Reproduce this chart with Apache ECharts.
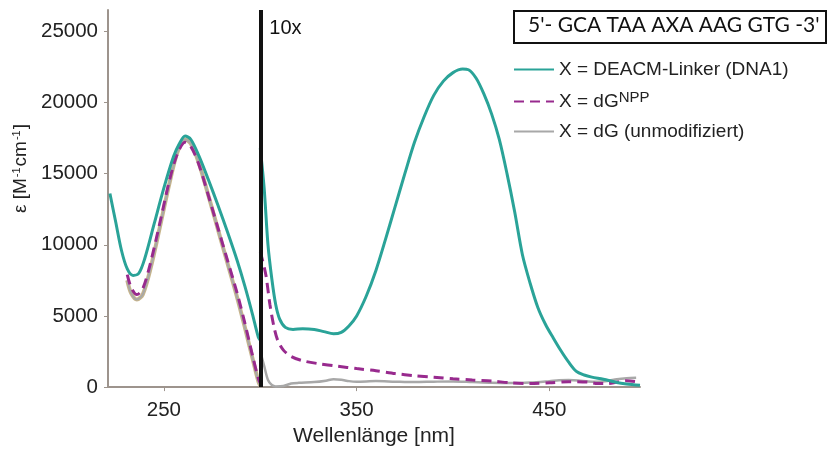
<!DOCTYPE html>
<html><head><meta charset="utf-8">
<script src="https://cdn.jsdelivr.net/npm/echarts@6/dist/echarts.min.js"></script>
<style>html,body{margin:0;padding:0;background:#fff}#c{width:827px;height:452px}</style>
</head><body><div id="c"></div>
<script>
// ---- data (wavelength nm, epsilon as plotted; right of 300 nm values are 10x magnified) ----
const xTicks = [250, 350, 450];
const yTicks = [0, 5000, 10000, 15000, 20000, 25000];
const seqLabel = "5'- GCA TAA AXA AAG GTG -3'";
const magLabel = "10x";
const splitNm = 300;

const tealLeftNm  = [222,225,228,231,234,237,240,245,250,255,258,261,264,268,273,278,283,288,292,296,299,300];
const tealLeftVal = [13600,11600,9600,8300,7850,8000,9000,11500,14000,16200,17100,17650,17400,16300,14600,12800,10900,8900,7100,5100,3500,3300];
const tealRightNm  = [300,302,304,306,308,310,313,317,322,328,333,338,342,346,350,355,360,365,370,375,380,385,390,395,400,405,408,412,416,420,424,428,432,436,440,444,448,452,456,460,464,468,472,478,485,490,497];
const tealRightVal = [16800,14000,10000,7600,5800,4800,4200,4050,4100,4050,3900,3750,3850,4300,5000,6400,8200,10400,12700,15000,17200,19000,20500,21500,22100,22350,22300,21700,20600,19200,17400,15000,12300,9300,7300,5600,4400,3450,2550,1750,1100,850,700,550,320,220,130];

const nppLeftNm  = [231,233,236,239,243,248,253,257,261,264,268,273,278,283,288,292,296,299,300];
const nppLeftVal = [7900,7000,6500,6900,8700,11600,14600,16400,17200,16900,15700,13500,11200,8900,6600,4500,2200,600,300];
const nppRightNm  = [300,301,303,305,307,309,312,316,322,330,340,350,360,370,380,390,400,410,420,430,440,450,460,470,475,480,485,490,497];
const nppRightVal = [9500,9000,7800,5800,4300,3300,2600,2150,1850,1650,1470,1300,1150,950,800,700,580,500,430,300,250,300,380,350,250,250,350,450,350];

const dgLeftNm  = [231,233,236,239,243,248,253,257,261,264,268,273,278,283,288,292,296,299,300];
const dgLeftVal = [7500,6600,6150,6500,8300,11300,14400,16500,17400,17100,15800,13500,11100,8700,6300,4200,2000,400,100];
const dgRightNm  = [300,302,304,306,308,312,316,320,328,334,338,342,346,350,360,370,380,390,400,410,420,430,440,450,455,460,465,470,475,480,485,490,495];
const dgRightVal = [2500,1500,500,150,50,80,250,300,350,450,560,520,420,380,420,380,350,380,400,350,300,280,320,420,480,500,470,400,380,430,550,620,650];

const names = ['X = DEACM-Linker (DNA1)', 'X = dGNPP', 'X = dG (unmodifiziert)'];

// ---- build ----
const pairs = (xs, ys) => xs.map((x, i) => [x, ys[i]]);
const TEAL = '#2aa398', PURPLE = '#982a8e', GRAY = '#a8a8a8', TAN = '#c8b58a';
const FONT = 'Liberation Sans, Arial, sans-serif';

function line(name, data, color, width, type, z) {
  return { name, type: 'line', data, smooth: 0.3, symbol: 'none', z: z || 2,
    lineStyle: { color, width, type: type || 'solid' }, itemStyle: { color }, emphasis: { disabled: true } };
}

const series = [
  line('tan', pairs(dgLeftNm, dgLeftVal), TAN, 4, 'solid', 1),
  line(names[2], pairs(dgLeftNm, dgLeftVal), GRAY, 2, 'solid', 2),
  line(names[2], pairs(dgRightNm, dgRightVal), GRAY, 2.5, 'solid', 2),
  line(names[1], pairs(nppLeftNm, nppLeftVal), PURPLE, 3, [10, 6], 3),
  line(names[1], pairs(nppRightNm, nppRightVal), PURPLE, 3, [10, 6], 3),
  line(names[0], pairs(tealLeftNm, tealLeftVal), TEAL, 3, 'solid', 4),
  line(names[0], pairs(tealRightNm, tealRightVal), TEAL, 3, 'solid', 4),
];
series[6].markLine = {
  silent: true, symbol: 'none', animation: false,
  lineStyle: { color: '#111', width: 4, type: 'solid' },
  label: { show: false },
  data: [{ xAxis: splitNm }]
};

const chart = echarts.init(document.getElementById('c'));
const axisColor = '#9d948d';
chart.setOption({
  animation: false,
  backgroundColor: '#fff',
  grid: { left: 108, right: 187, top: 10, bottom: 63 },
  xAxis: {
    type: 'value', min: 221, max: 497,
    name: 'Wellenlänge [nm]', nameLocation: 'middle', nameGap: 37,
    nameTextStyle: { fontFamily: FONT, fontSize: 21, color: '#222' },
    axisLine: { lineStyle: { color: axisColor, width: 2 } },
    axisTick: { customValues: xTicks, length: 4, lineStyle: { color: axisColor } },
    axisLabel: { customValues: xTicks, fontFamily: FONT, fontSize: 20.5, color: '#222', margin: 13, formatter: v => String(v) },
    splitLine: { show: false }
  },
  yAxis: {
    type: 'value', min: 0, max: 26500,
    name: '{a|ε [M}{s|-1}{a|cm}{s|-1}{a|]}', nameLocation: 'middle', nameGap: 73, nameRotate: 90,
    nameTextStyle: { padding: [0, 0, 0, 60],
      rich: { a: { fontFamily: FONT, fontSize: 19, color: '#222' },
              s: { fontFamily: FONT, fontSize: 11, color: '#222', verticalAlign: 'top', padding: [0, 1, 8, 1] } } },
    axisLine: { show: true, lineStyle: { color: axisColor, width: 2 } },
    axisTick: { show: true, customValues: yTicks, length: 4, lineStyle: { color: axisColor } },
    axisLabel: { customValues: yTicks, fontFamily: FONT, fontSize: 20.5, color: '#222', margin: 10, formatter: v => String(v) },
    splitLine: { show: false }
  },
  legend: {
    data: names, orient: 'vertical', left: 513, top: 60, padding: 0,
    itemWidth: 40, itemHeight: 20, itemGap: 11,
    itemStyle: { opacity: 0 },
    formatter: n => n === names[1] ? '{a|X = dG}{s|NPP}' : '{a|' + n + '}',
    textStyle: { fontFamily: FONT, fontSize: 19, color: '#222',
      rich: { a: { fontFamily: FONT, fontSize: 19, color: '#222' },
              s: { fontFamily: FONT, fontSize: 15, color: '#222', verticalAlign: 'top', padding: [0, 0, 8, 0] } } }
  },
  graphic: [
    { type: 'rect', left: 513, top: 10, shape: { width: 312, height: 32 },
      style: { fill: '#fff', stroke: '#111', lineWidth: 2 } },
    { type: 'text', left: 528, top: 15, style: { text: seqLabel, fontFamily: 'Lato, Open Sans, sans-serif', fontSize: 21, fill: '#111' } }
  ],
  series
});
// place the magnification label next to the split line using the axis scale
const p = chart.convertToPixel({ gridIndex: 0 }, [splitNm, 26500]);
chart.setOption({ graphic: [{}, {}, { type: 'text', x: p[0] + 9, y: p[1] + 8,
  style: { text: magLabel, fontFamily: FONT, fontSize: 20, fill: '#111' } }] });
</script></body></html>
